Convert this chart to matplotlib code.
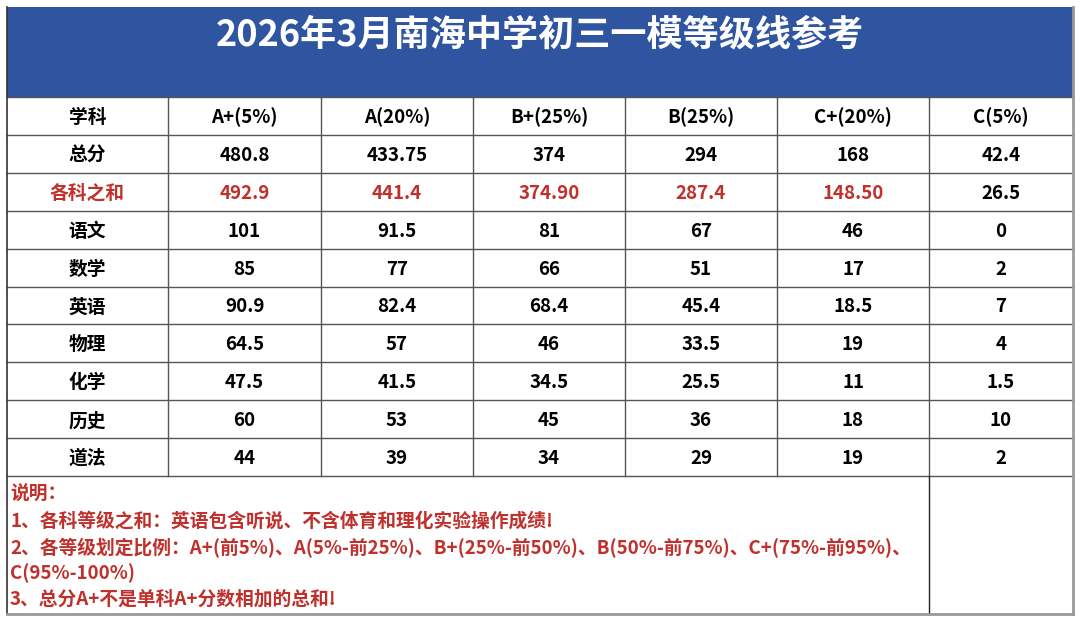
import matplotlib
matplotlib.use('Agg')
from matplotlib import pyplot as plt
from matplotlib.patches import Rectangle

plt.rcParams['font.family'] = ['Noto Sans CJK SC', 'DejaVu Sans']

title = '2026年3月南海中学初三一模等级线参考'
header = ['学科', 'A+(5%)', 'A(20%)', 'B+(25%)', 'B(25%)', 'C+(20%)', 'C(5%)']
subjects = ['总分', '各科之和', '语文', '数学', '英语', '物理', '化学', '历史', '道法']
grade_total = ['480.8', '433.75', '374', '294', '168', '42.4']
grade_sum = ['492.9', '441.4', '374.90', '287.4', '148.50', '26.5']
chinese = ['101', '91.5', '81', '67', '46', '0']
math = ['85', '77', '66', '51', '17', '2']
english = ['90.9', '82.4', '68.4', '45.4', '18.5', '7']
physics = ['64.5', '57', '46', '33.5', '19', '4']
chemistry = ['47.5', '41.5', '34.5', '25.5', '11', '1.5']
history = ['60', '53', '45', '36', '18', '10']
politics = ['44', '39', '34', '29', '19', '2']
rows = [grade_total, grade_sum, chinese, math, english, physics, chemistry, history, politics]
notes = ['说明：',
         '1、各科等级之和：英语包含听说、不含体育和理化实验操作成绩!',
         '2、各等级划定比例：A+(前5%)、A(5%-前25%)、B+(25%-前50%)、B(50%-前75%)、C+(75%-前95%)、',
         'C(95%-100%)',
         '3、总分A+不是单科A+分数相加的总和!']

blue = '#2F54A0'
red = '#C0302C'
grid = '#555555'

fig = plt.figure(figsize=(10.8, 6.23), dpi=100)
ax = fig.add_axes([0, 0, 1, 1])
ax.set_xlim(0, 1080)
ax.set_ylim(623, 0)
ax.axis('off')

xs = [7, 168, 321, 473, 625, 777, 929, 1073]
top, band = 7, 97
rh = 37.9
ys = [band + i * rh for i in range(len(subjects) + 2)]
bottom = 614

# title band
ax.add_patch(Rectangle((xs[0], top), xs[-1] - xs[0], band - top, facecolor=blue, edgecolor='none'))
ax.text((xs[0] + xs[-1]) / 2, 35, title, color='white', fontsize=26, fontweight='bold',
        ha='center', va='center')

# grid lines
for y in ys:
    ax.plot([xs[0], xs[-1]], [y, y], color=grid, lw=1)
for x in xs[1:-1]:
    ax.plot([x, x], [band, ys[-1]], color=grid, lw=1)
ax.plot([xs[-2], xs[-2]], [ys[-1], bottom], color='#222222', lw=1)
ax.plot([xs[0], xs[0]], [top, bottom], color='#333333', lw=1.2)
ax.plot([xs[-1], xs[-1]], [top, bottom], color='#999999', lw=2)
ax.plot([xs[0], xs[-1]], [bottom, bottom], color='#999999', lw=2)

fs = 13.5
dy = 1.5
# header row
for j, h in enumerate(header):
    ax.text((xs[j] + xs[j + 1]) / 2, (ys[0] + ys[1]) / 2 + dy, h, fontsize=fs, fontweight='bold',
            ha='center', va='center', color='black')

# body rows
for i, (name, vals) in enumerate(zip(subjects, rows)):
    yc = (ys[i + 1] + ys[i + 2]) / 2 + dy
    c = red if name == '各科之和' else 'black'
    ax.text((xs[0] + xs[1]) / 2, yc, name, fontsize=fs, fontweight='bold',
            ha='center', va='center', color=c)
    for j, v in enumerate(vals):
        cc = red if (name == '各科之和' and j < 5) else 'black'
        ax.text((xs[j + 1] + xs[j + 2]) / 2, yc, v, fontsize=fs, fontweight='bold',
                ha='center', va='center', color=cc)

# notes
ny = [494, 521, 548, 573, 599]
for y, t in zip(ny, notes):
    ax.text(10, y, t, fontsize=13.5, fontweight='bold', color=red, ha='left', va='center')

fig.savefig('out.png', dpi=100, facecolor='white')
